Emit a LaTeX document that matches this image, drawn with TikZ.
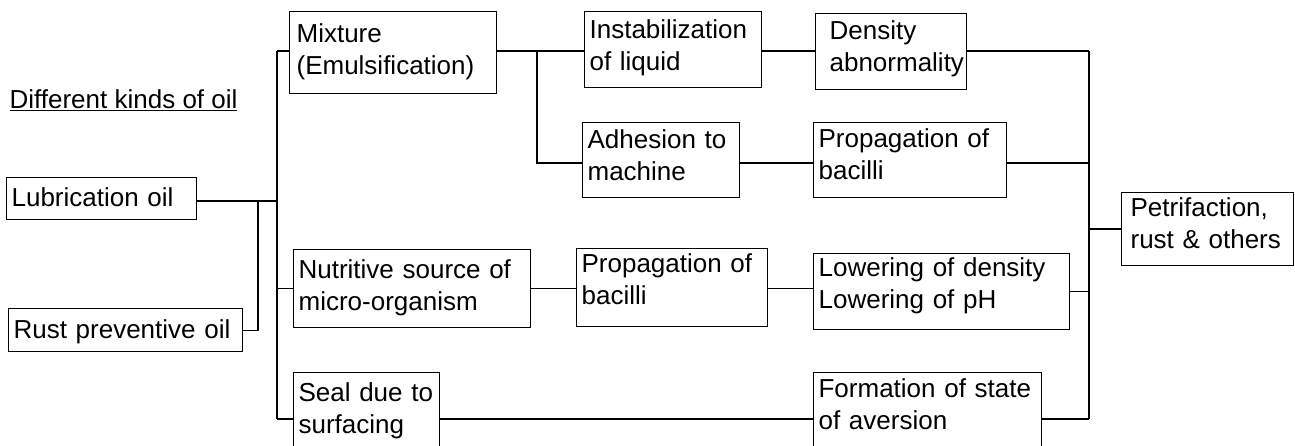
\documentclass[tikz,border=0pt]{standalone}
\usepackage{fontspec}
\setmainfont{Liberation Sans}
\usetikzlibrary{positioning}

\begin{document}
\begin{tikzpicture}[x=1pt, y=-1pt, line width=1.2pt,
	font=\fontsize{26}{32}\selectfont,
	box/.style={draw, anchor=north west, align=left, inner xsep=5pt, inner ysep=4pt}]

	\useasboundingbox (0,0) rectangle (1295,446);
	\clip (0,0) rectangle (1295,446);

	\node[anchor=base west, inner sep=0pt] (title) at (9,109) {\underline{Different kinds of oil}};
	\node[box, text width=180pt, text height=25pt, text depth=9pt] (lub) at (6,177) {Lubrication oil};
	\node[box, text width=224pt, text height=26pt, text depth=9pt] (rust) at (8,308) {Rust preventive oil};

	\node[box, inner xsep=7pt, text width=193pt, text height=27pt, text depth=47pt] (mix) at (289,11) {Mixture\\(Emulsification)};
	\node[box, text width=227pt, text height=25pt, text depth=45pt] (nut) at (293,249) {Nutritive source of\\micro-organism};
	\node[box, text width=136pt, text height=25pt, text depth=47pt] (seal) at (293,372) {Seal due to\\surfacing};

	\node[box, text width=167pt, text height=23pt, text depth=45pt] (ins) at (584,11) {Instabilization\\of liquid};
	\node[box, text width=147pt, text height=22pt, text depth=45pt] (adh) at (582,122) {Adhesion to\\machine};
	\node[box, text width=181pt, text height=20pt, text depth=50pt] (prob) at (576,248) {Propagation of\\bacilli};

	\node[box, inner xsep=14pt, text width=123pt, text height=22pt, text depth=46pt] (den) at (815,13) {Density\\abnormality};
	\node[box, text width=183pt, text height=21pt, text depth=46pt] (proa) at (813,122) {Propagation of\\bacilli};
	\node[box, text width=246pt, text height=19pt, text depth=49pt] (low) at (813,253) {Lowering of density\\Lowering of pH};
	\node[box, text width=218pt, text height=21pt, text depth=51pt] (form) at (813,372) {Formation of state\\of aversion};

	\node[box, inner xsep=9pt, text width=154pt, text height=20pt, text depth=45pt] (pet) at (1121,192) {Petrifaction,\\rust \& others};

	\coordinate (ljoin) at (258,201);
	\coordinate (mtop) at (277,51);
	\coordinate (mbot) at (277,419);
	\coordinate (ujoin) at (537,163);
	\coordinate (rtop) at (1089,51);
	\coordinate (rbot) at (1089,419);

	\draw (lub.east |- ljoin) -- (mtop |- ljoin);
	\draw (ljoin) |- (rust.east);
	\draw (mtop) -- (mbot);
	\draw (mtop) -- (mix.west |- mtop);
	\draw (mtop |- nut.west) -- (nut.west);
	\draw (mbot) -- (seal.west |- mbot);

	\draw (mix.east |- mtop) -- (ins.west |- mtop);
	\draw (ujoin |- mtop) |- (adh.west |- ujoin);
	\draw (ins.east |- mtop) -- (den.west |- mtop);
	\draw (adh.east |- ujoin) -- (proa.west |- ujoin);
	\draw (nut.east) -- (prob.west |- nut.east);
	\draw (prob.east |- nut.east) -- (low.west |- nut.east);
	\draw (seal.east |- mbot) -- (form.west |- mbot);

	\draw (den.east |- mtop) -- (rtop);
	\draw (proa.east |- ujoin) -- (rtop |- ujoin);
	\draw (low.east) -- (rtop |- low.east);
	\draw (form.east |- mbot) -- (rbot);
	\draw (rtop) -- (rbot);
	\draw (rtop |- pet.west) -- (pet.west);
\end{tikzpicture}
\end{document}
